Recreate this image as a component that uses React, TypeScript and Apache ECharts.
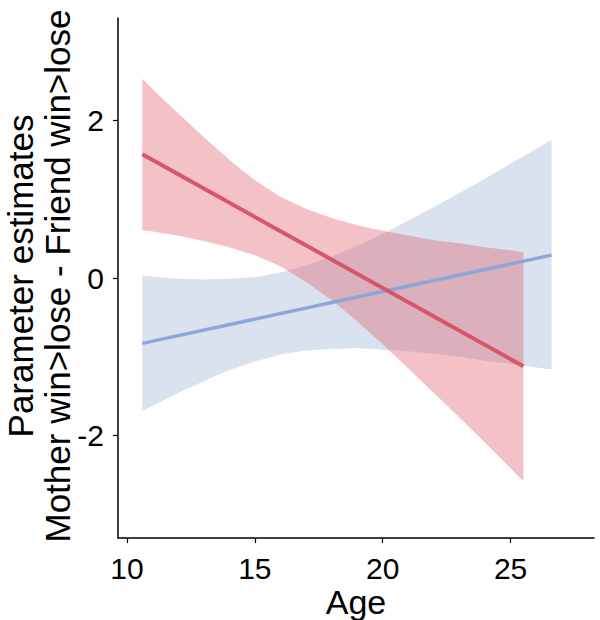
import React, { useEffect, useRef } from "react";
import * as echarts from "echarts";

// Red group (fit + 95% band)
const redAges = [10.6, 11, 12, 13, 14, 15, 16, 17, 18, 19, 20, 21, 22, 23, 24, 25.5];
const redUpper = [2.53, 2.4, 2.09, 1.79, 1.5, 1.24, 1.03, 0.88, 0.76, 0.67, 0.6, 0.54, 0.48, 0.44, 0.39, 0.33];
const redLower = [0.61, 0.59, 0.54, 0.47, 0.39, 0.29, 0.15, -0.05, -0.28, -0.55, -0.84, -1.15, -1.46, -1.77, -2.09, -2.58];
const redFit = [[10.6, 1.57], [25.5, -1.12]];

// Blue group (fit + 95% band)
const blueAges = [10.6, 11, 12, 13, 14, 15, 16, 17, 18, 19, 20, 21, 22, 23, 24, 25, 26.6];
const blueUpper = [0.03, 0.02, -0.01, -0.02, -0.01, 0.01, 0.07, 0.16, 0.27, 0.41, 0.56, 0.73, 0.9, 1.08, 1.26, 1.45, 1.75];
const blueLower = [-1.69, -1.62, -1.46, -1.31, -1.17, -1.06, -0.97, -0.92, -0.9, -0.89, -0.91, -0.93, -0.96, -1.0, -1.05, -1.09, -1.16];
const blueFit = [[10.6, -0.83], [26.6, 0.29]];

const xTicks = [10, 15, 20, 25];
const yTicks = [-2, 0, 2];

const FONT = '"Liberation Sans", Arial, sans-serif';

function bandSeries(ages: number[], upper: number[], lower: number[], fill: string) {
  return {
    type: "custom",
    data: [[ages[0], upper[0]]],
    renderItem: (_params: any, api: any) => {
      const pts: number[][] = [];
      for (let i = 0; i < ages.length; i++) pts.push(api.coord([ages[i], upper[i]]));
      for (let i = ages.length - 1; i >= 0; i--) pts.push(api.coord([ages[i], lower[i]]));
      return {
        type: "polygon",
        shape: { points: pts },
        style: { fill, stroke: "none" },
      };
    },
    silent: true,
  };
}

export default function App() {
  const ref = useRef<HTMLDivElement>(null);
  useEffect(() => {
    const chart = echarts.init(ref.current!, undefined, { renderer: "svg" });
    chart.setOption({
      animation: false,
      backgroundColor: "#ffffff",
      textStyle: { fontFamily: FONT },
      grid: { left: 118, top: 18, right: 6, bottom: 82, containLabel: false, outerBoundsMode: "none" },
      xAxis: {
        type: "value",
        min: 9.65,
        max: 28.26,
        axisLine: { show: true, onZero: false, lineStyle: { color: "#000", width: 1.5 } },
        axisTick: { show: true, length: 5, customValues: xTicks, lineStyle: { color: "#000", width: 1.2 } },
        axisLabel: { customValues: xTicks, fontSize: 30, color: "#000", margin: 15, fontFamily: FONT },
        splitLine: { show: false },
      },
      yAxis: {
        type: "value",
        min: -3.3,
        max: 3.3,
        axisLine: { show: true, onZero: false, lineStyle: { color: "#000", width: 1.5 } },
        axisTick: { show: true, length: 5, customValues: yTicks, lineStyle: { color: "#000", width: 1.2 } },
        axisLabel: { customValues: yTicks, fontSize: 30, color: "#000", margin: 14, fontFamily: FONT },
        splitLine: { show: false },
      },
      graphic: [
        {
          type: "text",
          x: 356,
          y: 602,
          style: {
            text: "Age",
            fontSize: 34,
            fontFamily: FONT,
            fill: "#000",
            textAlign: "center",
            textVerticalAlign: "middle",
          },
        },
        {
          type: "text",
          x: 20,
          y: 276,
          rotation: Math.PI / 2,
          style: {
            text: "Parameter estimates",
            fontSize: 35,
            fontFamily: FONT,
            fill: "#000",
            textAlign: "center",
            textVerticalAlign: "middle",
          },
        },
        {
          type: "text",
          x: 57,
          y: 276,
          rotation: Math.PI / 2,
          style: {
            text: "Mother win>lose - Friend win>lose",
            fontSize: 35,
            fontFamily: FONT,
            fill: "#000",
            textAlign: "center",
            textVerticalAlign: "middle",
          },
        },
      ],
      series: [
        bandSeries(blueAges, blueUpper, blueLower, "rgba(146,172,206,0.35)"),
        bandSeries(redAges, redUpper, redLower, "rgba(224,81,92,0.35)"),
        {
          type: "line",
          data: blueFit,
          showSymbol: false,
          silent: true,
          lineStyle: { color: "#8FA6DB", width: 3.5 },
        },
        {
          type: "line",
          data: redFit,
          showSymbol: false,
          silent: true,
          lineStyle: { color: "#D6566C", width: 4 },
        },
      ],
    });
    return () => chart.dispose();
  }, []);
  return <div ref={ref} style={{ position: "fixed", left: 0, top: 0, width: 600, height: 620 }} />;
}
